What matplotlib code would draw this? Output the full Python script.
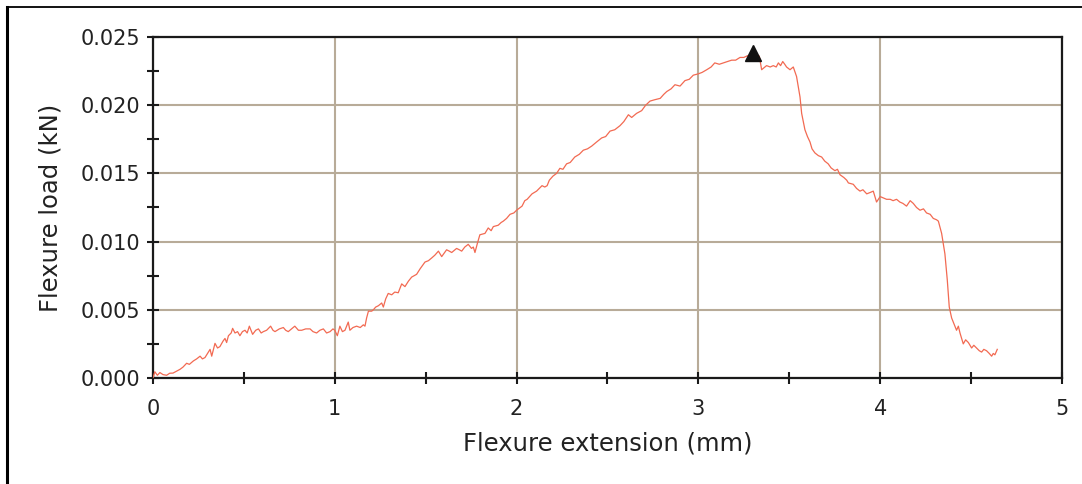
import matplotlib
matplotlib.use('Agg')
import matplotlib.pyplot as plt
from matplotlib.lines import Line2D
from matplotlib.ticker import MultipleLocator

# flexure test readings (extension in mm, load in kN)
extension = [
    0.000, 0.010, 0.024, 0.038, 0.055, 0.075, 0.092, 0.110, 0.130, 0.149,
    0.165, 0.185, 0.200, 0.222, 0.240, 0.259, 0.272, 0.286, 0.300, 0.314,
    0.323, 0.341, 0.355, 0.368, 0.385, 0.396, 0.405, 0.415, 0.430, 0.438,
    0.451, 0.465, 0.478, 0.492, 0.506, 0.518, 0.530, 0.548, 0.565, 0.580,
    0.595, 0.607, 0.625, 0.647, 0.660, 0.671, 0.695, 0.717, 0.730, 0.744,
    0.762, 0.780, 0.800, 0.818, 0.840, 0.864, 0.880, 0.900, 0.918, 0.937,
    0.955, 0.974, 0.990, 1.000, 1.014, 1.028, 1.042, 1.056, 1.074, 1.083,
    1.100, 1.120, 1.140, 1.157, 1.166, 1.175, 1.185, 1.203, 1.212, 1.225,
    1.240, 1.258, 1.267, 1.280, 1.294, 1.313, 1.330, 1.349, 1.368, 1.386,
    1.405, 1.423, 1.450, 1.469, 1.480, 1.496, 1.515, 1.533, 1.550, 1.570,
    1.588, 1.615, 1.630, 1.643, 1.670, 1.685, 1.698, 1.715, 1.734, 1.752,
    1.762, 1.771, 1.785, 1.798, 1.826, 1.844, 1.860, 1.872, 1.899, 1.915,
    1.927, 1.945, 1.964, 1.985, 2.000, 2.030, 2.045, 2.058, 2.085, 2.110,
    2.125, 2.140, 2.155, 2.168, 2.180, 2.200, 2.220, 2.238, 2.255, 2.275,
    2.295, 2.320, 2.345, 2.367, 2.390, 2.413, 2.440, 2.468, 2.490, 2.514,
    2.540, 2.569, 2.590, 2.615, 2.633, 2.660, 2.688, 2.710, 2.734, 2.760,
    2.790, 2.810, 2.826, 2.850, 2.871, 2.899, 2.926, 2.950, 2.972, 3.000,
    3.020, 3.046, 3.070, 3.090, 3.115, 3.137, 3.160, 3.183, 3.205, 3.229,
    3.250, 3.266, 3.290, 3.310, 3.335, 3.348, 3.357, 3.375, 3.395, 3.412,
    3.428, 3.440, 3.452, 3.464, 3.475, 3.485, 3.504, 3.522, 3.540, 3.550,
    3.559, 3.568, 3.586, 3.600, 3.614, 3.625, 3.641, 3.660, 3.678, 3.695,
    3.714, 3.730, 3.751, 3.765, 3.779, 3.800, 3.816, 3.825, 3.852, 3.870,
    3.889, 3.905, 3.926, 3.945, 3.962, 3.980, 4.000, 4.018, 4.035, 4.055,
    4.071, 4.090, 4.108, 4.125, 4.145, 4.165, 4.182, 4.200, 4.219, 4.238,
    4.255, 4.275, 4.292, 4.310, 4.320, 4.338, 4.356, 4.369, 4.380, 4.393,
    4.405, 4.420, 4.430, 4.439, 4.457, 4.470, 4.485, 4.503, 4.515, 4.530,
    4.545, 4.558, 4.570, 4.585, 4.600, 4.613, 4.622, 4.631, 4.644,
]
load = [
    0.0000, 0.00046, 0.0002, 0.0004, 0.00025, 0.0002, 0.00035, 0.00036, 0.0005, 0.00064,
    0.0008, 0.00108, 0.0010, 0.00125, 0.0014, 0.0016, 0.0014, 0.0015, 0.0018, 0.0021,
    0.0016, 0.00254, 0.0022, 0.0023, 0.0027, 0.0029, 0.0026, 0.0031, 0.0033, 0.00364,
    0.0033, 0.0034, 0.0031, 0.0034, 0.0035, 0.0033, 0.0038, 0.0032, 0.0035, 0.0036,
    0.0033, 0.0034, 0.0035, 0.0038, 0.0035, 0.0034, 0.0036, 0.0037, 0.0035, 0.0034,
    0.0036, 0.0038, 0.0035, 0.0035, 0.0036, 0.0036, 0.0034, 0.0033, 0.0035, 0.0036,
    0.0033, 0.0034, 0.0036, 0.0035, 0.0031, 0.0038, 0.0034, 0.0035, 0.0041, 0.0035,
    0.0037, 0.0038, 0.0037, 0.0039, 0.0038, 0.0044, 0.0049, 0.0049, 0.0050, 0.0052,
    0.0053, 0.0055, 0.0052, 0.0058, 0.0062, 0.0061, 0.0063, 0.00625, 0.0069, 0.0067,
    0.0071, 0.0074, 0.0076, 0.0080, 0.0082, 0.0085, 0.0086, 0.0088, 0.0090, 0.0093,
    0.0089, 0.0094, 0.0093, 0.0092, 0.0095, 0.0094, 0.0093, 0.0096, 0.0098, 0.0095,
    0.0096, 0.0092, 0.0099, 0.0105, 0.0106, 0.0110, 0.0108, 0.0111, 0.0112, 0.0114,
    0.0115, 0.0117, 0.0120, 0.0121, 0.0123, 0.0126, 0.0130, 0.0131, 0.0135, 0.0137,
    0.0139, 0.0141, 0.0140, 0.0141, 0.0145, 0.0148, 0.0150, 0.01537, 0.0153, 0.0157,
    0.0158, 0.0162, 0.0164, 0.0167, 0.0168, 0.0170, 0.0173, 0.0176, 0.0177, 0.0181,
    0.0182, 0.0185, 0.0188, 0.0193, 0.0191, 0.0194, 0.0196, 0.0200, 0.0203, 0.0204,
    0.0205, 0.0208, 0.0210, 0.0212, 0.0215, 0.0214, 0.0218, 0.0219, 0.0222, 0.0223,
    0.0224, 0.0226, 0.0228, 0.0231, 0.0230, 0.0231, 0.0232, 0.0233, 0.0233, 0.0235,
    0.0235, 0.0236, 0.0237, 0.0237, 0.0236, 0.0226, 0.0227, 0.0229, 0.0228, 0.0229,
    0.0228, 0.0231, 0.0229, 0.0232, 0.0230, 0.0228, 0.0226, 0.0228, 0.0221, 0.0213,
    0.0206, 0.0194, 0.0182, 0.0177, 0.0173, 0.0168, 0.0165, 0.0163, 0.0162, 0.0159,
    0.0157, 0.0154, 0.0152, 0.0153, 0.0149, 0.0147, 0.0145, 0.0143, 0.0142, 0.0139,
    0.0137, 0.0138, 0.0135, 0.0136, 0.0137, 0.0129, 0.0133, 0.0132, 0.0131, 0.0131,
    0.0130, 0.0131, 0.0129, 0.0128, 0.0126, 0.0130, 0.0128, 0.0125, 0.0123, 0.0124,
    0.0121, 0.0120, 0.0117, 0.0116, 0.0115, 0.0106, 0.0091, 0.0072, 0.0052, 0.0044,
    0.0040, 0.0035, 0.0038, 0.0033, 0.0025, 0.0028, 0.0026, 0.0022, 0.0024, 0.0022,
    0.0020, 0.0019, 0.0021, 0.0020, 0.0018, 0.0016, 0.0018, 0.0017, 0.0021,
]

peak_ext = [3.30]
peak_load = [0.0238]

x_ticks = [0, 1, 2, 3, 4, 5]
y_ticks = [0.000, 0.005, 0.010, 0.015, 0.020, 0.025]

fig = plt.figure(figsize=(10.82, 4.84), dpi=100)
ax = fig.add_axes([0.1414, 0.219, 0.8401, 0.7046])

ax.plot(extension, load, color='#f26a52', lw=0.9, zorder=3)
ax.plot(peak_ext, peak_load, marker='^', color='#111111', markersize=11,
        linestyle='none', zorder=4)

ax.set_xlim(0, 5)
ax.set_ylim(0, 0.025)
ax.set_xticks(x_ticks)
ax.set_yticks(y_ticks)
ax.set_xticklabels([str(t) for t in x_ticks])
ax.set_yticklabels([f'{t:.3f}' for t in y_ticks])
ax.xaxis.set_minor_locator(MultipleLocator(0.5))
ax.yaxis.set_minor_locator(MultipleLocator(0.0025))

ax.grid(True, which='major', color='#b8ab98', lw=1.5, zorder=0)
ax.set_axisbelow(True)

for s in ax.spines.values():
    s.set_color('#1a1a1a')
    s.set_linewidth(1.6)

ax.tick_params(which='both', direction='inout', length=8, width=1.5,
               color='#1a1a1a', labelsize=15, labelcolor='#222222')
ax.tick_params(axis='x', which='both', pad=11)
ax.tick_params(axis='y', which='both', pad=5)

ax.set_xlabel('Flexure extension (mm)', fontsize=17.5, color='#222222', labelpad=9)
ax.set_ylabel('Flexure load (kN)', fontsize=17.5, color='#222222', labelpad=13)

# outer frame, cut off on the right and bottom
fx = 7 / 1082
fy = 1 - 7 / 484
fig.add_artist(Line2D([fx, fx], [0, fy], color='black', lw=2.2))
fig.add_artist(Line2D([fx, 1], [fy, fy], color='black', lw=1.3))

fig.savefig('out.png', dpi=100, facecolor='white')
